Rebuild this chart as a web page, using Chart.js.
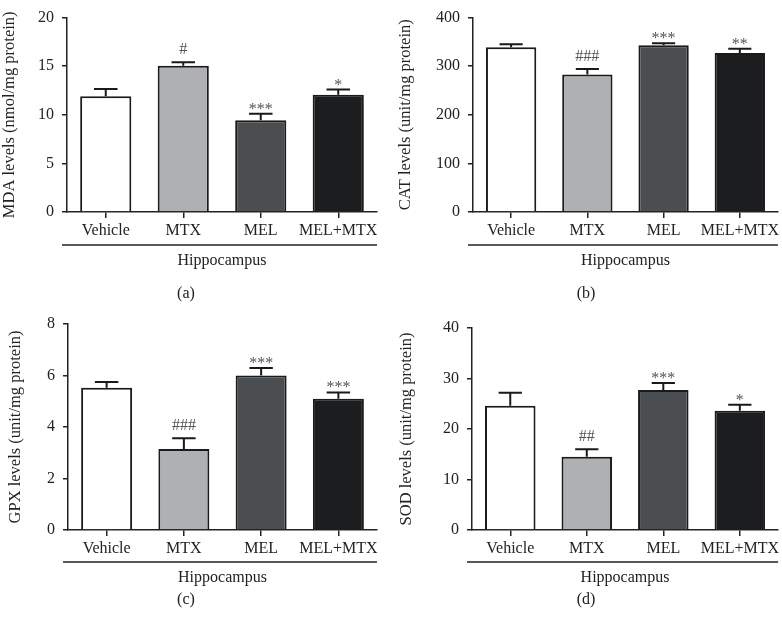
<!DOCTYPE html>
<html>
<head>
<meta charset="utf-8">
<script src="https://cdn.jsdelivr.net/npm/chart.js@4"></script>
<style>
  body { margin: 0; background: #fff; }
  #wrap { position: relative; width: 782px; height: 619px; }
  canvas { position: absolute; }
</style>
</head>
<body>
<div id="wrap">
  <canvas id="cA" width="391" height="305" style="left:0;top:0"></canvas>
  <canvas id="cB" width="391" height="305" style="left:391px;top:0"></canvas>
  <canvas id="cC" width="391" height="314" style="left:0;top:305px"></canvas>
  <canvas id="cD" width="391" height="314" style="left:391px;top:305px"></canvas>
</div>
<script>
const groups = ['Vehicle', 'MTX', 'MEL', 'MEL+MTX'];
const barColors = ['#ffffff', '#aeb0b3', '#4b4e51', '#1c1d1f'];

const mdaMean = [11.9, 15.05, 9.45, 12.05];
const mdaErr = [0.75, 0.35, 0.65, 0.55];
const mdaMarks = ['', '#', '***', '*'];

const catMean = [339, 283, 343, 327];
const catErr = [6, 11, 4, 9];
const catMarks = ['', '###', '***', '**'];

const gpxMean = [5.52, 3.15, 6.0, 5.1];
const gpxErr = [0.23, 0.41, 0.29, 0.24];
const gpxMarks = ['', '###', '***', '***'];

const sodMean = [24.6, 14.5, 27.7, 23.6];
const sodErr = [2.6, 1.5, 1.4, 1.2];
const sodMarks = ['', '##', '***', '*'];

const serif = '"Liberation Serif", "DejaVu Serif", serif';
const ink = '#222';

// error bars, significance marks, group line and panel letter
const decor = {
  id: 'decor',
  afterDatasetsDraw(chart, args, o) {
    const ctx = chart.ctx;
    const y = chart.scales.y;
    const bars = chart.getDatasetMeta(0).data;
    ctx.save();
    ctx.strokeStyle = '#1a1a1a';
    ctx.lineWidth = 2;
    bars.forEach((b, i) => {
      const top = y.getPixelForValue(o.mean[i] + o.err[i]);
      const half = b.width * 0.23;
      ctx.beginPath();
      ctx.moveTo(b.x, y.getPixelForValue(o.mean[i]));
      ctx.lineTo(b.x, top);
      ctx.moveTo(b.x - half, top);
      ctx.lineTo(b.x + half, top);
      ctx.stroke();
      const m = o.marks[i];
      if (m) {
        ctx.fillStyle = '#555';
        ctx.font = '16px ' + serif;
        ctx.textAlign = 'center';
        ctx.textBaseline = 'alphabetic';
        ctx.fillText(m, b.x, top - (m[0] === '#' ? 8 : 0));
      }
    });
    ctx.restore();
  },
  afterDraw(chart, args, o) {
    const ctx = chart.ctx;
    const a = chart.chartArea;
    ctx.save();
    ctx.strokeStyle = ink;
    ctx.lineWidth = 1.5;
    ctx.beginPath();
    ctx.moveTo(a.left - 5, a.bottom + o.lineDy);
    ctx.lineTo(a.right, a.bottom + o.lineDy);
    ctx.stroke();
    ctx.fillStyle = ink;
    ctx.font = '16px ' + serif;
    ctx.textAlign = 'center';
    ctx.textBaseline = 'middle';
    ctx.fillText('Hippocampus', (a.left + a.right) / 2, a.bottom + o.lineDy + 16);
    ctx.fillText(o.letter, o.letterX, a.bottom + o.letterDy);
    ctx.restore();
  }
};

function panel(id, mean, err, marks, max, step, title, p) {
  new Chart(document.getElementById(id), {
    type: 'bar',
    data: {
      labels: groups,
      datasets: [{
        data: mean,
        backgroundColor: barColors,
        borderColor: '#1a1a1a',
        borderWidth: 2,
        barPercentage: 0.66,
        categoryPercentage: 1
      }]
    },
    options: {
      responsive: false,
      animation: false,
      layout: { padding: { left: p.left, top: p.top, right: p.right, bottom: 0 } },
      plugins: {
        legend: { display: false },
        tooltip: { enabled: false },
        decor: { mean: mean, err: err, marks: marks, letter: p.letter, letterX: p.letterX,
                 lineDy: p.lineDy, letterDy: p.letterDy }
      },
      scales: {
        x: {
          afterFit: s => { s.height = p.xHeight; },
          grid: { offset: false, drawOnChartArea: false, tickLength: 6, color: ink, lineWidth: 1.5 },
          border: { color: ink, width: 1.5 },
          ticks: { color: ink, padding: 3, maxRotation: 0, minRotation: 0, autoSkip: false,
                   font: { family: serif, size: 16 } }
        },
        y: {
          min: 0, max: max,
          afterFit: s => { s.width = p.yWidth; },
          grid: { drawOnChartArea: false, tickLength: 5, color: ink, lineWidth: 1.5 },
          border: { color: ink, width: 1.5 },
          ticks: { stepSize: step, color: ink, padding: 8, font: { family: serif, size: 16 } },
          title: { display: true, text: title, color: ink, padding: 0, font: { family: serif, size: 16.5 } }
        }
      }
    },
    plugins: [decor]
  });
}

panel('cA', mdaMean, mdaErr, mdaMarks, 20, 5, 'MDA levels (nmol/mg protein)',
  { left: 0, top: 6, right: 14, yWidth: 67, xHeight: 93, lineDy: 33, letterDy: 82, letter: '(a)', letterX: 186 });
panel('cB', catMean, catErr, catMarks, 400, 100, 'CAT levels (unit/mg protein)',
  { left: 5, top: 6, right: 0, yWidth: 77, xHeight: 93, lineDy: 33, letterDy: 82, letter: '(b)', letterX: 195 });
panel('cC', gpxMean, gpxErr, gpxMarks, 8, 2, 'GPX levels (unit/mg protein)',
  { left: 6, top: 19, right: 14, yWidth: 62, xHeight: 89, lineDy: 32, letterDy: 70, letter: '(c)', letterX: 186 });
panel('cD', sodMean, sodErr, sodMarks, 40, 10, 'SOD levels (unit/mg protein)',
  { left: 6, top: 23, right: 0, yWidth: 75, xHeight: 89, lineDy: 32, letterDy: 70, letter: '(d)', letterX: 195 });
</script>
</body>
</html>
